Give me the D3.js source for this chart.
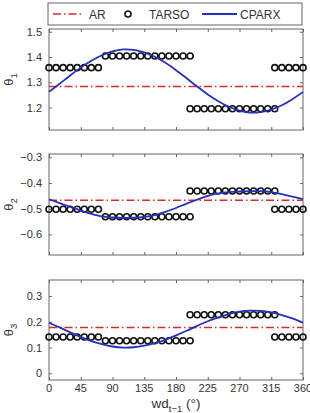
<!DOCTYPE html>
<html>
<head>
<meta charset="utf-8">
<script src="https://d3js.org/d3.v7.min.js"></script>
<style>
  body { margin: 0; background: #fff; }
  text { font-family: "Liberation Sans", Arial, sans-serif; }
</style>
</head>
<body>
<script>
// wind direction grid for the CPARX curves (degrees)
var curveDeg = [0,15,30,45,60,75,90,105,120,135,150,165,180,195,210,225,240,255,270,285,300,315,330,345,360];
var cparx1 = [1.262,1.294,1.327,1.358,1.385,1.407,1.422,1.430,1.428,1.418,1.401,1.377,1.348,1.316,1.283,1.252,1.225,1.203,1.188,1.180,1.182,1.192,1.209,1.233,1.262];
var cparx2 = [-0.463,-0.478,-0.493,-0.507,-0.520,-0.530,-0.534,-0.536,-0.535,-0.532,-0.525,-0.512,-0.497,-0.480,-0.465,-0.450,-0.440,-0.435,-0.433,-0.432,-0.432,-0.435,-0.443,-0.453,-0.463];
var cparx3 = [0.196,0.178,0.159,0.141,0.125,0.113,0.104,0.100,0.101,0.107,0.117,0.130,0.147,0.165,0.184,0.202,0.217,0.230,0.239,0.243,0.242,0.236,0.226,0.213,0.196];

// TARSO regimes: [from, to] degrees, markers every 10 deg
var regimes = [[0,70],[80,200],[200,320],[320,360]];
var tarso1 = [1.358, 1.404, 1.195, 1.358];
var tarso2 = [-0.502, -0.531, -0.431, -0.502];
var tarso3 = [0.141, 0.126, 0.227, 0.141];

var ar = [1.283, -0.467, 0.178];

var xTicks = [0,45,90,135,180,225,270,315,360];
var yTicks = [[1.2,1.3,1.4,1.5],[-0.6,-0.5,-0.4,-0.3],[0,0.1,0.2,0.3]];
var yDomains = [[1.111,1.511],[-0.680,-0.287],[-0.026,0.362]];
var labels = ["1","2","3"];

var W = 310, H = 413;
var left = 49, right = 303;
var panels = [{top:29,bottom:130},{top:154,bottom:255},{top:280,bottom:380}];
var red = "#e0262b", blue = "#2630b8", axisCol = "#666", txtCol = "#333";

var svg = d3.select("body").append("svg").attr("width", W).attr("height", H);

var x = d3.scaleLinear().domain([0,360]).range([left,right]);
var cparx = [cparx1,cparx2,cparx3];
var tarso = [tarso1,tarso2,tarso3];

panels.forEach(function(p, i){
  var y = d3.scaleLinear().domain(yDomains[i]).range([p.bottom, p.top]);
  var g = svg.append("g");

  // box
  g.append("rect").attr("x", left).attr("y", p.top)
    .attr("width", right-left).attr("height", p.bottom-p.top)
    .attr("fill","none").attr("stroke",axisCol).attr("stroke-width",1);

  // inward ticks
  var ax = [
    {a: d3.axisBottom(x), t: "translate(0,"+p.bottom+")"},
    {a: d3.axisTop(x), t: "translate(0,"+p.top+")"}
  ];
  ax.forEach(function(o){
    var gg = g.append("g").attr("transform", o.t)
      .call(o.a.tickValues(xTicks).tickSizeInner(-3).tickSizeOuter(0).tickFormat(""));
    gg.select(".domain").remove();
    gg.selectAll("line").attr("stroke", axisCol);
  });
  var gl = g.append("g").attr("transform","translate("+left+",0)")
    .call(d3.axisLeft(y).tickValues(yTicks[i]).tickSizeInner(-3).tickSizeOuter(0)
      .tickPadding(7).tickFormat(function(d){ return d3.format("")(d).replace("-","\u2212"); }));
  gl.select(".domain").remove();
  gl.selectAll("line").attr("stroke", axisCol);
  gl.selectAll("text").attr("fill", txtCol).style("font-size","11px")
    .style("font-family","'Liberation Sans', Arial, sans-serif");
  var gr = g.append("g").attr("transform","translate("+right+",0)")
    .call(d3.axisRight(y).tickValues(yTicks[i]).tickSizeInner(-3).tickSizeOuter(0).tickFormat(""));
  gr.select(".domain").remove();
  gr.selectAll("line").attr("stroke", axisCol);

  // AR
  g.append("line").attr("x1", x(0)).attr("x2", x(360))
    .attr("y1", y(ar[i])).attr("y2", y(ar[i]))
    .attr("stroke", red).attr("stroke-width",1.5).attr("stroke-dasharray","8,3,1.5,3");

  // TARSO
  var pts = [];
  regimes.forEach(function(r, k){
    d3.range(r[0], r[1]+1, 10).forEach(function(d){ pts.push([d, tarso[i][k]]); });
  });
  g.selectAll("circle.t").data(pts).enter().append("circle")
    .attr("cx", function(d){ return x(d[0]); })
    .attr("cy", function(d){ return y(d[1]); })
    .attr("r", 3).attr("fill","none").attr("stroke","#111").attr("stroke-width",1.6);

  // CPARX
  var line = d3.line().curve(d3.curveCatmullRom)
    .x(function(d, k){ return x(curveDeg[k]); })
    .y(function(d){ return y(d); });
  g.append("path").datum(cparx[i]).attr("d", line)
    .attr("fill","none").attr("stroke", blue).attr("stroke-width",1.8);

  // y label
  var cy = (p.top+p.bottom)/2;
  var lab = g.append("text").attr("transform","translate(13,"+cy+") rotate(-90)")
    .attr("text-anchor","middle").attr("fill", txtCol).style("font-size","13px");
  lab.append("tspan").text("\u03b8");
  lab.append("tspan").attr("dy", 4).style("font-size","9.5px").text(labels[i]);

  // x tick labels on bottom panel
  if (i === 2) {
    g.selectAll("text.xt").data(xTicks).enter().append("text")
      .attr("x", function(d){ return x(d); }).attr("y", p.bottom+12)
      .attr("text-anchor","middle").attr("fill", txtCol).style("font-size","11px")
      .text(function(d){ return d; });
  }
});

// x axis label
var xl = svg.append("text").attr("x", 176).attr("y", 408).attr("text-anchor","middle")
  .attr("fill", txtCol).style("font-size","13.5px");
xl.append("tspan").text("wd");
xl.append("tspan").attr("dy", 4).style("font-size","9.5px").text("t\u22121");
xl.append("tspan").attr("dy", -4).text(" (\u00b0)");

// legend
var lg = svg.append("g");
lg.append("rect").attr("x", 48).attr("y", 3).attr("width", 254).attr("height", 22)
  .attr("fill","#fff").attr("stroke", axisCol).attr("stroke-width",1);
var ly = 14;
lg.append("line").attr("x1",53).attr("x2",81).attr("y1",ly).attr("y2",ly)
  .attr("stroke",red).attr("stroke-width",1.5).attr("stroke-dasharray","8,3,1.5,3");
lg.append("text").attr("x",89).attr("y",ly+4.5).attr("fill",txtCol).style("font-size","12px").text("AR");
lg.append("circle").attr("cx",128).attr("cy",ly).attr("r",3)
  .attr("fill","none").attr("stroke","#111").attr("stroke-width",1.6);
lg.append("text").attr("x",149).attr("y",ly+4.5).attr("fill",txtCol).style("font-size","12px").text("TARSO");
lg.append("line").attr("x1",202).attr("x2",237).attr("y1",ly).attr("y2",ly)
  .attr("stroke",blue).attr("stroke-width",1.8);
lg.append("text").attr("x",240).attr("y",ly+4.5).attr("fill",txtCol).style("font-size","12px").text("CPARX");
</script>
</body>
</html>
